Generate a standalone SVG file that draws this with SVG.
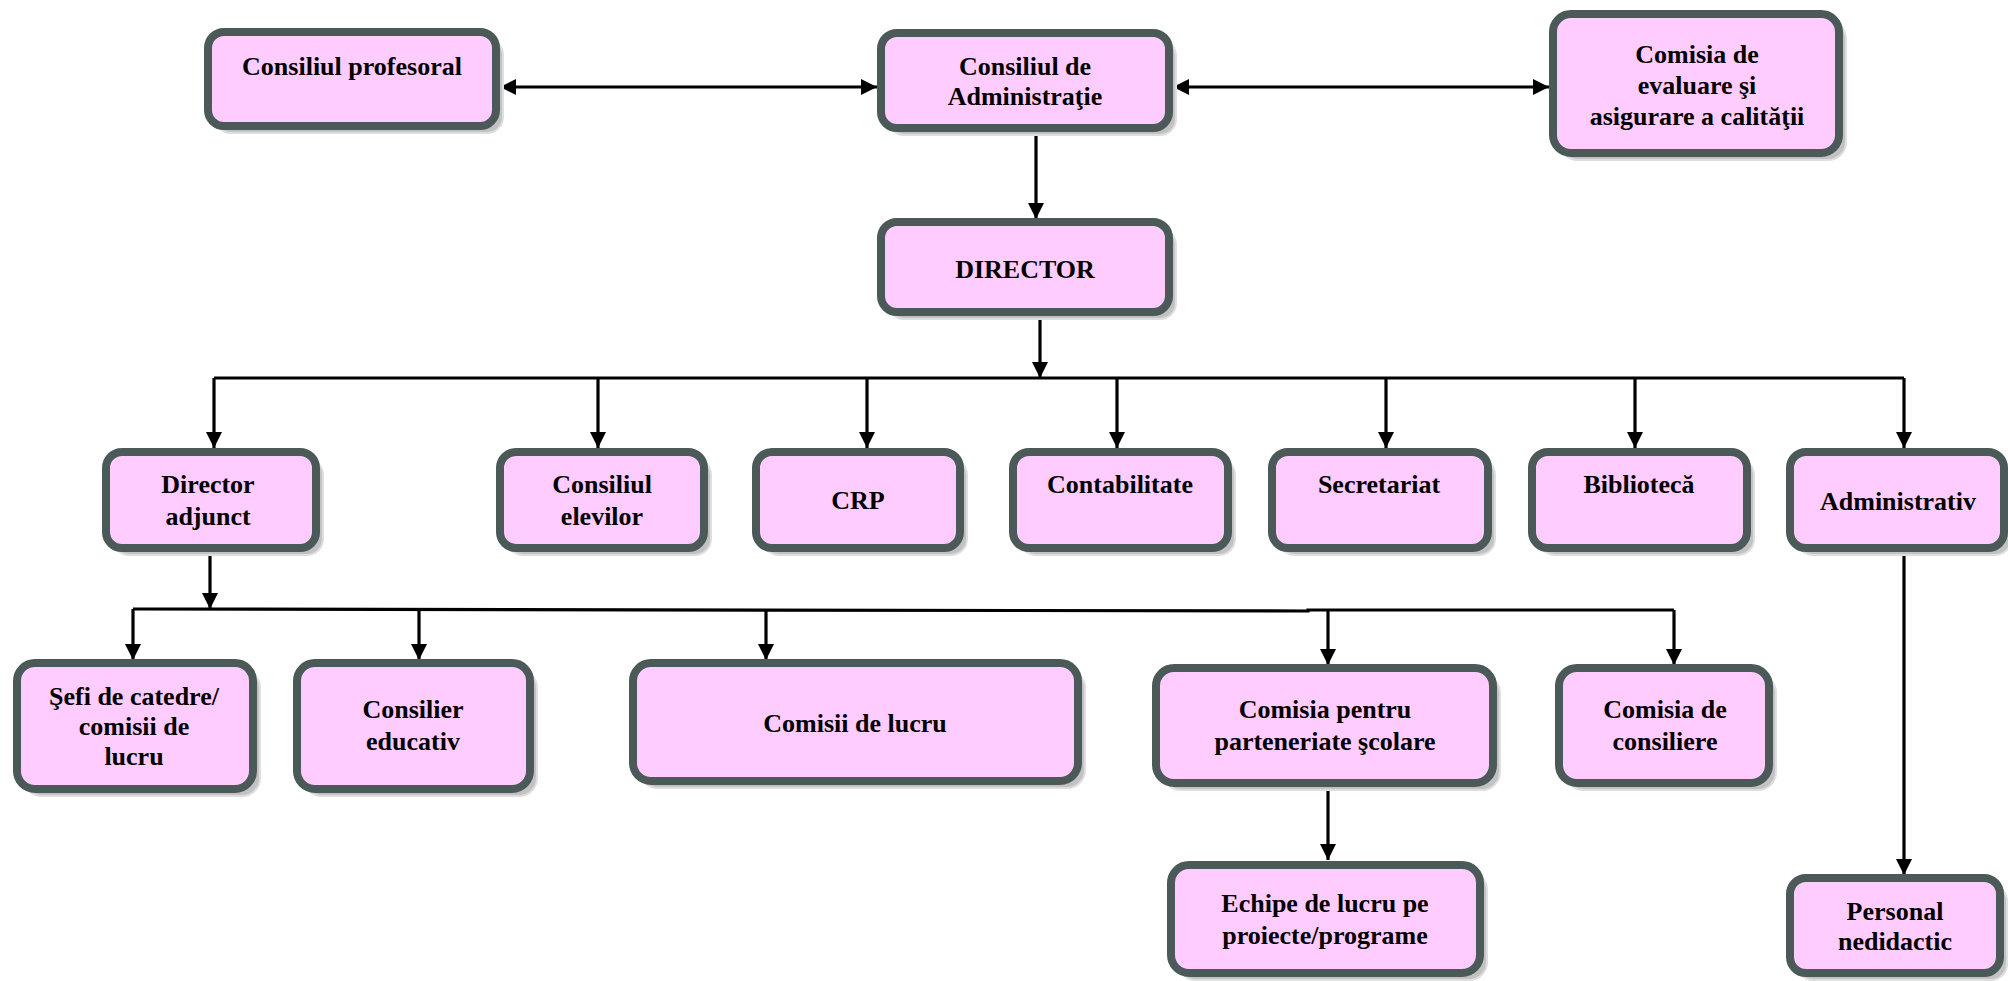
<svg xmlns="http://www.w3.org/2000/svg" width="2008" height="981" viewBox="0 0 2008 981">
<style>
.sh{fill:#c2c2c2;stroke:#dedede;stroke-width:2}
.bx{fill:#ffccff;stroke:#4b5959;stroke-width:8}
.t{font-family:"Liberation Serif","Times New Roman",serif;font-weight:bold;font-size:26px;fill:#000;text-anchor:middle}
.c{fill:none;stroke:#000;stroke-width:3.2}
</style>
<defs>
<marker id="ah" markerUnits="userSpaceOnUse" markerWidth="17" markerHeight="16" refX="16" refY="8" orient="auto-start-reverse" viewBox="0 0 17 16">
<path d="M0,0 L16,8 L0,16 z" fill="#000"/>
</marker>
</defs>
<rect width="2008" height="981" fill="#fff"/>

<g id="connectors">
<line class="c" x1="500" y1="87" x2="877" y2="87" marker-start="url(#ah)" marker-end="url(#ah)"/>
<line class="c" x1="1173" y1="87" x2="1549" y2="87" marker-start="url(#ah)" marker-end="url(#ah)"/>
<line class="c" x1="1036" y1="132" x2="1036" y2="219" marker-end="url(#ah)"/>
<line class="c" x1="1040" y1="316" x2="1040" y2="378" marker-end="url(#ah)"/>
<line class="c" x1="214" y1="378" x2="1904" y2="378"/>
<line class="c" x1="214" y1="378" x2="214" y2="448" marker-end="url(#ah)"/>
<line class="c" x1="598" y1="378" x2="598" y2="448" marker-end="url(#ah)"/>
<line class="c" x1="867" y1="378" x2="867" y2="448" marker-end="url(#ah)"/>
<line class="c" x1="1117" y1="378" x2="1117" y2="448" marker-end="url(#ah)"/>
<line class="c" x1="1386" y1="378" x2="1386" y2="448" marker-end="url(#ah)"/>
<line class="c" x1="1635" y1="378" x2="1635" y2="448" marker-end="url(#ah)"/>
<line class="c" x1="1904" y1="378" x2="1904" y2="448" marker-end="url(#ah)"/>
<line class="c" x1="210" y1="552" x2="210" y2="609" marker-end="url(#ah)"/>
<polyline class="c" points="133,609 1308,611 1308,610 1674,610"/>
<line class="c" x1="133" y1="609" x2="133" y2="660" marker-end="url(#ah)"/>
<line class="c" x1="419" y1="609" x2="419" y2="660" marker-end="url(#ah)"/>
<line class="c" x1="766" y1="610" x2="766" y2="660" marker-end="url(#ah)"/>
<line class="c" x1="1328" y1="611" x2="1328" y2="665" marker-end="url(#ah)"/>
<line class="c" x1="1674" y1="610" x2="1674" y2="665" marker-end="url(#ah)"/>
<line class="c" x1="1328" y1="787" x2="1328" y2="860" marker-end="url(#ah)"/>
<line class="c" x1="1904" y1="552" x2="1904" y2="875" marker-end="url(#ah)"/>
</g>

<g id="n-profesoral">
<rect class="sh" x="215" y="39" width="288" height="94" rx="16"/>
<rect class="bx" x="208" y="32" width="288" height="94" rx="16"/>
<text class="t" x="352" y="75">Consiliul profesoral</text>
</g>
<g id="n-administratie">
<rect class="sh" x="888" y="40" width="288" height="95" rx="16"/>
<rect class="bx" x="881" y="33" width="288" height="95" rx="16"/>
<text class="t" x="1025" y="75">Consiliul de</text>
<text class="t" x="1025" y="105">Administraţie</text>
</g>
<g id="n-ceac">
<rect class="sh" x="1560" y="21" width="286" height="139" rx="18"/>
<rect class="bx" x="1553" y="14" width="286" height="139" rx="18"/>
<text class="t" x="1697" y="63">Comisia de</text>
<text class="t" x="1697" y="94">evaluare şi</text>
<text class="t" x="1697" y="125">asigurare a calităţii</text>
</g>
<g id="n-director">
<rect class="sh" x="888" y="229" width="288" height="90" rx="16"/>
<rect class="bx" x="881" y="222" width="288" height="90" rx="16"/>
<text class="t" x="1025" y="278">DIRECTOR</text>
</g>

<g id="n-adjunct">
<rect class="sh" x="113" y="459" width="210" height="96" rx="16"/>
<rect class="bx" x="106" y="452" width="210" height="96" rx="16"/>
<text class="t" x="208" y="493">Director</text>
<text class="t" x="208" y="525">adjunct</text>
</g>
<g id="n-elevi">
<rect class="sh" x="507" y="459" width="204" height="96" rx="16"/>
<rect class="bx" x="500" y="452" width="204" height="96" rx="16"/>
<text class="t" x="602" y="493">Consiliul</text>
<text class="t" x="602" y="525">elevilor</text>
</g>
<g id="n-crp">
<rect class="sh" x="763" y="459" width="204" height="96" rx="16"/>
<rect class="bx" x="756" y="452" width="204" height="96" rx="16"/>
<text class="t" x="858" y="509">CRP</text>
</g>
<g id="n-contabilitate">
<rect class="sh" x="1020" y="459" width="215" height="96" rx="16"/>
<rect class="bx" x="1013" y="452" width="215" height="96" rx="16"/>
<text class="t" x="1120" y="493">Contabilitate</text>
</g>
<g id="n-secretariat">
<rect class="sh" x="1279" y="459" width="216" height="96" rx="16"/>
<rect class="bx" x="1272" y="452" width="216" height="96" rx="16"/>
<text class="t" x="1379" y="493">Secretariat</text>
</g>
<g id="n-biblioteca">
<rect class="sh" x="1539" y="459" width="215" height="96" rx="16"/>
<rect class="bx" x="1532" y="452" width="215" height="96" rx="16"/>
<text class="t" x="1639" y="493">Bibliotecă</text>
</g>
<g id="n-administrativ">
<rect class="sh" x="1797" y="459" width="214" height="96" rx="16"/>
<rect class="bx" x="1790" y="452" width="214" height="96" rx="16"/>
<text class="t" x="1898" y="510">Administrativ</text>
</g>

<g id="n-sefi">
<rect class="sh" x="24" y="670" width="236" height="126" rx="18"/>
<rect class="bx" x="17" y="663" width="236" height="126" rx="18"/>
<text class="t" x="134" y="705">Şefi de catedre/</text>
<text class="t" x="134" y="735">comisii de</text>
<text class="t" x="134" y="765">lucru</text>
</g>
<g id="n-consilier">
<rect class="sh" x="304" y="670" width="233" height="126" rx="18"/>
<rect class="bx" x="297" y="663" width="233" height="126" rx="18"/>
<text class="t" x="413" y="718">Consilier</text>
<text class="t" x="413" y="750">educativ</text>
</g>
<g id="n-comisii">
<rect class="sh" x="640" y="670" width="445" height="118" rx="18"/>
<rect class="bx" x="633" y="663" width="445" height="118" rx="18"/>
<text class="t" x="855" y="732">Comisii de lucru</text>
</g>
<g id="n-parteneriate">
<rect class="sh" x="1163" y="675" width="337" height="115" rx="18"/>
<rect class="bx" x="1156" y="668" width="337" height="115" rx="18"/>
<text class="t" x="1325" y="718">Comisia pentru</text>
<text class="t" x="1325" y="750">parteneriate şcolare</text>
</g>
<g id="n-consiliere">
<rect class="sh" x="1566" y="675" width="210" height="115" rx="18"/>
<rect class="bx" x="1559" y="668" width="210" height="115" rx="18"/>
<text class="t" x="1665" y="718">Comisia de</text>
<text class="t" x="1665" y="750">consiliere</text>
</g>
<g id="n-echipe">
<rect class="sh" x="1178" y="872" width="309" height="108" rx="18"/>
<rect class="bx" x="1171" y="865" width="309" height="108" rx="18"/>
<text class="t" x="1325" y="912">Echipe de lucru pe</text>
<text class="t" x="1325" y="944">proiecte/programe</text>
</g>
<g id="n-nedidactic">
<rect class="sh" x="1797" y="885" width="210" height="95" rx="16"/>
<rect class="bx" x="1790" y="878" width="210" height="95" rx="16"/>
<text class="t" x="1895" y="920">Personal</text>
<text class="t" x="1895" y="950">nedidactic</text>
</g>
</svg>
